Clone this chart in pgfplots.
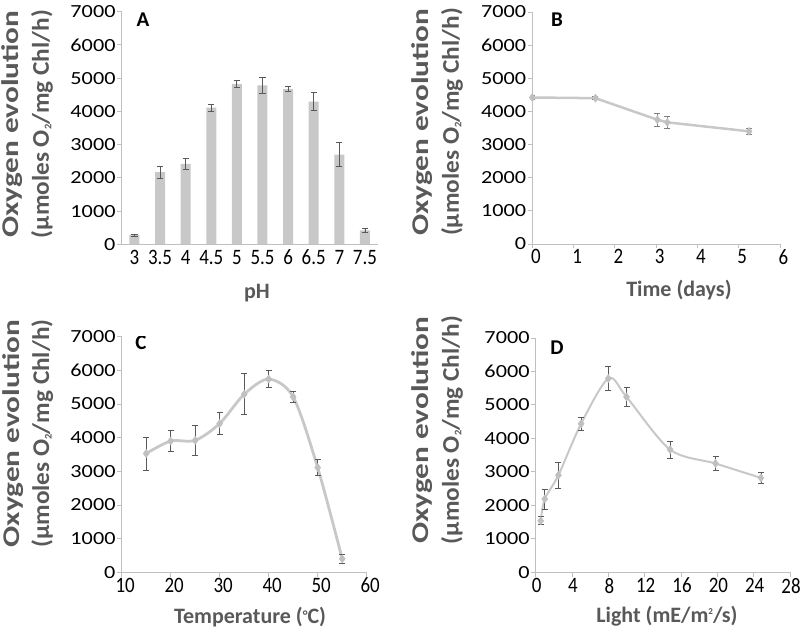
\documentclass[border=0pt]{standalone}
\usepackage{graphicx}
\usepackage{pgfplots}
\pgfplotsset{compat=1.18}
\usepackage{fontspec}
\setmainfont{Carlito}
\newfontfamily\ytfamily[FakeStretch=1.2]{Carlito}
\newfontfamily\xtfamily[FakeStretch=0.86]{Carlito}
\definecolor{axisgray}{RGB}{191,191,191}
\definecolor{bargray}{RGB}{200,200,200}
\definecolor{errgray}{RGB}{89,89,89}
\definecolor{errlight}{RGB}{128,128,128}
\definecolor{titlegray}{RGB}{89,89,89}
\definecolor{markgray}{RGB}{192,192,192}
\newsavebox\fitbox
\newcommand\fitw[2]{\sbox\fitbox{#2}\pgfmathsetmacro\fitr{(#1)/(\wd\fitbox)}\scalebox{\fitr}[1]{\usebox\fitbox}}
\newcommand\subtwo{\raisebox{-2.5bp}{\fontsize{10bp}{10bp}\selectfont 2}}
\newcommand\suptwo{\raisebox{8bp}{\fontsize{9bp}{9bp}\selectfont 2}}
\newcommand\degr{\raisebox{3bp}{\fontsize{14bp}{14bp}\selectfont °}}
\tikzset{letter/.style={font=\bfseries\fontsize{21bp}{22bp}\selectfont, text=black}}
\pgfplotsset{
 panel/.style={
  scale only axis,
  axis lines*=left,
  axis line style={-, draw=axisgray, line width=0.9bp},
  ymin=0, ymax=7000, ytick={0,1000,...,7000},
  /pgf/number format/1000 sep={},
  /pgf/number format/assume math mode=true,
  tick align=outside,
  major tick length=4.5bp,
  tick style={draw=axisgray, line width=0.9bp},
  yticklabel style={font=\ytfamily\fontsize{18.5bp}{20bp}\selectfont, text=black, inner sep=1.5bp},
  xticklabel style={font=\xtfamily\fontsize{22bp}{24bp}\selectfont, text=black, inner sep=1bp},
  ylabel style={font=\bfseries\fontsize{24bp}{30bp}\selectfont, text=titlegray, align=center, anchor=center},
  xlabel style={font=\bfseries\fontsize{22bp}{24bp}\selectfont, text=titlegray, anchor=base},
  ylabel={\fitw{227bp}{Oxygen evolution}\\\fitw{228bp}{(µmoles O\subtwo/mg Chl/h)}},
 },
 errs/.style={error bars/.cd, y dir=both, y explicit,
   error bar style={#1, line width=0.8bp},
   error mark options={rotate=90, mark size=3bp, #1, line width=0.8bp}},
 errs/.default=errgray,
}
\begin{document}
\begin{tikzpicture}
\useasboundingbox (0,0) rectangle (800bp,628bp);
% Panel A
\begin{axis}[panel, at={(121.7bp,383.7bp)}, anchor=south west,
  width=256bp, height=232.6bp,
  xmin=-0.5, xmax=9.5, xtick={0,...,9},
  xticklabels={3,3.5,4,4.5,5,5.5,6,6.5,7,7.5},
  x tick style={draw=none},
  xlabel={pH},
  ylabel style={at={(axis description cs:-0.368,0.517)}},
  xlabel style={at={(axis description cs:0.528,-0.231)}},
]
\addplot[ybar, bar width=10bp, fill=bargray, draw=none, errs] coordinates {
 (0,280) +- (0,30)
 (1,2170) +- (0,180)
 (2,2420) +- (0,170)
 (3,4110) +- (0,100)
 (4,4820) +- (0,110)
 (5,4780) +- (0,250)
 (6,4670) +- (0,80)
 (7,4290) +- (0,270)
 (8,2700) +- (0,360)
 (9,420) +- (0,60)
};
\node[letter] at (axis description cs:0.083,0.964) {A};
\end{axis}
% Panel B
\begin{axis}[panel, at={(532.3bp,384bp)}, anchor=south west,
  width=247.7bp, height=232bp,
  xmin=0, xmax=6, xtick={0,...,6},
  xticklabel style={xshift=3.5bp},
  xlabel={Time (days)},
  ylabel style={at={(axis description cs:-0.383,0.526)}},
  xlabel style={at={(axis description cs:0.592,-0.227)}},
]
\addplot[color=bargray, line width=2.5bp, mark=diamond*, mark size=4bp,
  mark options={fill=markgray, draw=markgray, line width=0.5bp}, errs=errlight] coordinates {
 (0,4420) +- (0,70)
 (1.53,4400) +- (0,50)
 (3.03,3750) +- (0,200)
 (3.27,3670) +- (0,180)
 (5.25,3400) +- (0,90)
};
\node[letter] at (axis description cs:0.1,0.966) {B};
\end{axis}
% Panel C
\begin{axis}[panel, at={(121.7bp,55.7bp)}, anchor=south west,
  width=245bp, height=235.6bp,
  xmin=10, xmax=60, xtick={10,20,...,60},
  xticklabel style={xshift=3.5bp},
  xlabel={Temperature (\degr C)},
  ylabel style={at={(axis description cs:-0.384,0.589)}},
  xlabel style={at={(axis description cs:0.524,-0.216)}},
]
\addplot[smooth, color=bargray, line width=2.8bp, mark=diamond*, mark size=4bp,
  mark options={fill=markgray, draw=markgray, line width=0.5bp}, errs] coordinates {
 (15,3530) +- (0,490)
 (20,3900) +- (0,320)
 (25,3920) +- (0,450)
 (30,4420) +- (0,320)
 (35,5290) +- (0,610)
 (40,5740) +- (0,250)
 (45,5210) +- (0,150)
 (50,3110) +- (0,240)
 (55,400) +- (0,130)
};
\node[letter] at (axis description cs:0.079,0.973) {C};
\end{axis}
% Panel D
\begin{axis}[panel, at={(535.7bp,55.7bp)}, anchor=south west,
  width=254.3bp, height=234.3bp,
  xmin=0, xmax=28, xtick={0,4,...,28},
  xticklabel style={xshift=1bp},
  xlabel={Light (mE/m\suptwo/s)},
  ylabel style={at={(axis description cs:-0.386,0.607)}},
  xlabel style={at={(axis description cs:0.516,-0.216)}},
]
\addplot[smooth, color=bargray, line width=2bp, mark=diamond*, mark size=4bp,
  mark options={fill=markgray, draw=markgray, line width=0.5bp}, errs] coordinates {
 (0.55,1540) +- (0,120)
 (1,2190) +- (0,300)
 (2.5,2900) +- (0,380)
 (5,4440) +- (0,200)
 (8,5790) +- (0,350)
 (10,5240) +- (0,270)
 (14.8,3665) +- (0,260)
 (19.8,3250) +- (0,200)
 (24.8,2820) +- (0,150)
};
\node[letter] at (axis description cs:0.084,0.957) {D};
\end{axis}
\end{tikzpicture}
\end{document}
